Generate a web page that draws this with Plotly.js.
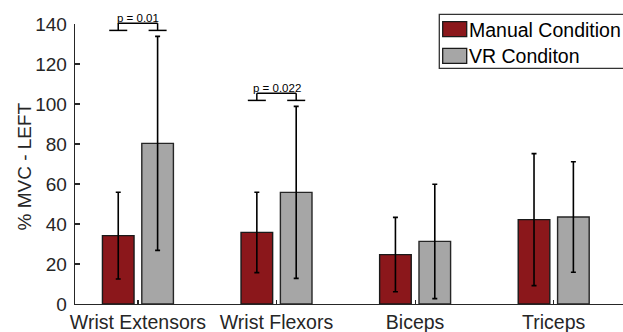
<!DOCTYPE html>
<html>
<head>
<meta charset="utf-8">
<script src="https://cdn.plot.ly/plotly-3.0.1.min.js"></script>
<style>html,body{margin:0;padding:0;background:#fff;}#chart{width:623px;height:332px;}</style>
</head>
<body>
<div id="chart"></div>
<script>
// ---- data ----
const categories = ["Wrist Extensors", "Wrist Flexors", "Biceps", "Triceps"];
const manualName = "Manual Condition";
const vrName = "VR Conditon";
const manualMean = [34.2, 35.8, 24.7, 42.2];
const manualSD   = [21.7, 20.1, 18.6, 33.0];
const vrMean     = [80.3, 55.8, 31.3, 43.5];
const vrSD       = [53.5, 43.0, 28.6, 27.6];
const sigCategories = [0, 1];
const sigLabels = ["p = 0.01", "p = 0.022"];
const yTicks = [0, 20, 40, 60, 80, 100, 120, 140];
const yTitle = "% MVC - LEFT";

// ---- layout constants ----
const W = 623, H = 332;
const M = {l: 75, r: 0, t: 24, b: 28};
const PW = W - M.l - M.r, PH = H - M.t - M.b;
const XR = [-0.454, 3.5], YR = [0, 140];
const BARGAP = 0.432, GROUPGAP = 0.197;
const OFFSET = (1 - BARGAP) / 4;   // centre of each bar from its category centre
const px2x = px => (px - M.l) / PW;
const py2y = py => (H - M.b - py) / PH;
const dx2p = v => (v - XR[0]) / (XR[1] - XR[0]);
const dy2p = v => (v - YR[0]) / (YR[1] - YR[0]);

const AX = '#262626';
const FONT = 'Liberation Sans, Arial, Helvetica, sans-serif';
const idx = categories.map((c, i) => i);

const traces = [
  {
    type: 'bar', name: manualName, x: idx, y: manualMean,
    marker: {color: '#8b171b', line: {color: '#1a1a1a', width: 1.4}},
    error_y: {type: 'data', array: manualSD, visible: true, color: '#000', thickness: 1.6, width: 2.5},
    showlegend: false
  },
  {
    type: 'bar', name: vrName, x: idx, y: vrMean,
    marker: {color: '#a6a6a6', line: {color: '#262626', width: 1.4}},
    error_y: {type: 'data', array: vrSD, visible: true, color: '#000', thickness: 1.6, width: 2.5},
    showlegend: false
  }
];

const shapes = [];
const annotations = [];

// significance brackets
sigCategories.forEach((ci, k) => {
  const foot = Math.max(manualMean[ci] + manualSD[ci], vrMean[ci] + vrSD[ci]) + 3;
  const top = foot + 3.6;
  const xl = ci - OFFSET, xr = ci + OFFSET, hw = 0.065;
  const ln = {color: '#000', width: 1.5};
  [[xl - hw, foot, xl + hw, foot], [xr - hw, foot, xr + hw, foot],
   [xl, foot, xl, top], [xr, foot, xr, top], [xl, top, xr, top]].forEach(s => {
    shapes.push({type: 'line', xref: 'paper', yref: 'paper',
      x0: dx2p(s[0]), y0: dy2p(s[1]), x1: dx2p(s[2]), y1: dy2p(s[3]), line: ln});
  });
  annotations.push({
    xref: 'paper', yref: 'paper', x: dx2p(ci), y: dy2p(top), text: sigLabels[k], showarrow: false,
    xanchor: 'center', yanchor: 'bottom', yshift: -3,
    font: {family: FONT, size: 11.5, color: '#000'}
  });
});

// legend box (drawn as shapes + text)
shapes.push({type: 'rect', xref: 'paper', yref: 'paper',
  x0: px2x(439.3), x1: px2x(630), y0: py2y(68.3), y1: py2y(14.3),
  fillcolor: '#fff', line: {color: '#333', width: 1.3}, layer: 'above'});
const legendItems = [
  {name: manualName, color: '#8b171b', top: 21.7, mid: 30.0},
  {name: vrName, color: '#a6a6a6', top: 48.3, mid: 56.2}
];
legendItems.forEach(it => {
  shapes.push({type: 'rect', xref: 'paper', yref: 'paper',
    x0: px2x(442.7), x1: px2x(466.7), y0: py2y(it.top + 15), y1: py2y(it.top),
    fillcolor: it.color, line: {color: '#1a1a1a', width: 1.3}, layer: 'above'});
  annotations.push({xref: 'paper', yref: 'paper', x: px2x(467), y: py2y(it.mid),
    text: it.name, showarrow: false, xanchor: 'left', yanchor: 'middle',
    font: {family: FONT, size: 19.5, color: '#000'}});
});

// y-axis title
annotations.push({xref: 'paper', yref: 'paper', x: px2x(24), y: py2y(166.5),
  text: yTitle, textangle: -90, showarrow: false, xanchor: 'center', yanchor: 'middle',
  font: {family: FONT, size: 19, color: AX}});

const layout = {
  width: W, height: H,
  margin: M,
  paper_bgcolor: '#fff', plot_bgcolor: '#fff',
  barmode: 'group', bargap: BARGAP, bargroupgap: GROUPGAP,
  showlegend: false,
  font: {family: FONT, size: 19, color: AX},
  xaxis: {
    type: 'linear', range: XR, tickvals: idx, ticktext: categories,
    showgrid: false, zeroline: false, showline: true, linecolor: AX, linewidth: 1.3,
    ticks: 'inside', ticklen: 4, tickwidth: 1.2, tickcolor: AX,
    tickfont: {family: FONT, size: 19.5, color: AX}, automargin: false
  },
  yaxis: {
    range: YR, tickvals: yTicks,
    showgrid: false, zeroline: false, showline: true, linecolor: AX, linewidth: 1.3,
    ticks: 'inside', ticklen: 5, tickwidth: 1.2, tickcolor: AX,
    tickfont: {family: FONT, size: 19, color: AX}, ticklabelstandoff: 3,
    automargin: false
  },
  shapes: shapes,
  annotations: annotations
};

Plotly.newPlot('chart', traces, layout, {displayModeBar: false, staticPlot: true});
</script>
</body>
</html>
